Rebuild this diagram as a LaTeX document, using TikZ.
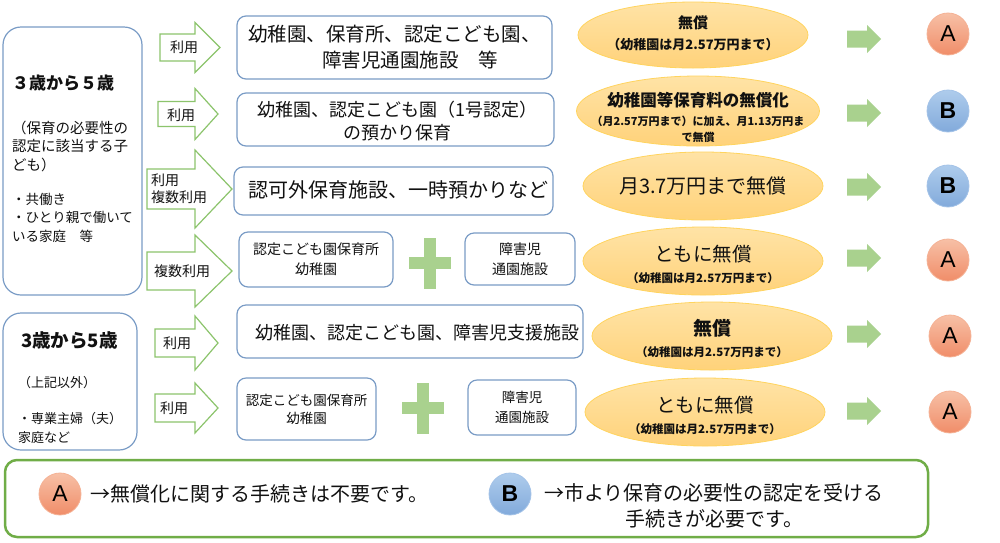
\documentclass[tikz,border=0pt]{standalone}
\usepackage{fontspec}
\setmainfont{Noto Sans CJK JP}
\newfontfamily\latinsans{Liberation Sans}
\usetikzlibrary{shapes.geometric}
\definecolor{boxblue}{HTML}{7A9CC6}
\definecolor{arrgreen}{HTML}{8CC46C}
\definecolor{plusgreen}{HTML}{A9D18E}
\definecolor{ellTop}{HTML}{FFE3A6}
\definecolor{ellBot}{HTML}{FFD27A}
\definecolor{ellborder}{HTML}{FFD45E}
\definecolor{aTop}{HTML}{F7C0A6}
\definecolor{aBot}{HTML}{F08D69}
\definecolor{aBorder}{HTML}{F5B295}
\definecolor{bTop}{HTML}{AECCEC}
\definecolor{bBot}{HTML}{82AADB}
\definecolor{bBorder}{HTML}{A4C3E8}
\definecolor{legendgreen}{HTML}{70AD47}
\definecolor{inkc}{HTML}{111111}
\newcommand\jf[2]{\fontsize{#1}{#2}\selectfont}
\newcommand\harr[6]{\draw[harrow] (#1,#4-#5) -- (#2,#4-#5) -- (#2,#4-#6) -- (#3,#4) -- (#2,#4+#6) -- (#2,#4+#5) -- (#1,#4+#5) -- cycle;}
\newcommand\sarr[1]{\fill[plusgreen] (847,#1-8.5) -- (867,#1-8.5) -- (867,#1-14) -- (881,#1) -- (867,#1+14) -- (867,#1+8.5) -- (847,#1+8.5) -- cycle;}
\newcommand\plusmark[2]{\fill[plusgreen] (#1-21,#2-6) rectangle (#1+21,#2+6); \fill[plusgreen] (#1-6,#2-25.5) rectangle (#1+6,#2+25.5);}
\begin{document}
\begin{tikzpicture}[x=1pt,y=-1pt,
  box/.style={draw=boxblue, line width=1.2pt, rounded corners=9pt, fill=white, inner sep=0pt},
  sidebox/.style={draw=boxblue, line width=1.2pt, rounded corners=18pt, fill=white, inner sep=0pt},
  ell/.style={ellipse, draw=ellborder, line width=0.8pt, top color=ellTop, bottom color=ellBot, inner sep=0pt},
  harrow/.style={draw=arrgreen, line width=1.2pt, fill=white, line join=miter},
  txt/.style={inner sep=0pt, text=inkc},
  circA/.style={circle, minimum size=42pt, inner sep=0pt, draw=aBorder, line width=0.8pt, top color=aTop, bottom color=aBot, text=black, font=\latinsans\fontsize{23}{26}\selectfont},
  circB/.style={circle, minimum size=42pt, inner sep=0pt, draw=bBorder, line width=0.8pt, top color=bTop, bottom color=bBot, text=black, font=\latinsans\bfseries\fontsize{23}{26}\selectfont}
]
\useasboundingbox (0,0) rectangle (1000,542);
\fill[white] (0,0) rectangle (1000,542);

% left boxes
\node[sidebox, minimum width=139pt, minimum height=268pt] (left1) at (72.5,161) {};
\node[txt, anchor=west, font=\bfseries\jf{17}{20}] (l1title) at (12,83) {３歳から５歳};
\node[txt, anchor=west, align=left, font=\jf{14.5}{18.5}] (l1p1) at (12,146) {（保育の必要性の\\認定に該当する子\\ども）};
\node[txt, anchor=west, align=left, font=\jf{13.5}{18.5}] (l1p2) at (12,217.5) {・共働き\\・ひとり親で働いて\\いる家庭　等};

\node[sidebox, minimum width=134pt, minimum height=137pt] (left2) at (70,381.5) {};
\node[txt, anchor=west, font=\bfseries\jf{18.5}{22}] (l2title) at (21,340) {3歳から5歳};
\node[txt, anchor=west, font=\jf{13}{18}] (l2p1) at (18,383) {（上記以外）};
\node[txt, anchor=west, align=left, font=\jf{13}{19}] (l2p2) at (18,427.5) {・専業主婦（夫）\\家庭など};

% hollow arrows
\harr{160}{195}{220}{47.5}{13.5}{25}
\harr{158}{195}{218}{114}{12.5}{25.5}
\harr{147}{195}{232}{189}{20}{39}
\harr{147}{195}{232}{271}{19}{36}
\harr{155}{195}{218}{343}{14}{27}
\harr{155}{195}{218}{408}{14}{25}
\node[txt, font=\jf{14}{17}] (u1) at (184,47.5) {利用};
\node[txt, font=\jf{14}{17}] (u2) at (181,115) {利用};
\node[txt, anchor=west, align=left, font=\jf{14}{17}] (u3) at (151,188.5) {利用\\複数利用};
\node[txt, font=\jf{14}{17}] (u4) at (182,271) {複数利用};
\node[txt, font=\jf{14}{17}] (u5) at (177,343) {利用};
\node[txt, font=\jf{14}{17}] (u6) at (174,408) {利用};

% middle boxes
\node[box, minimum width=315pt, minimum height=63pt] (m1) at (394.5,47.5) {};
\node[txt, align=center, font=\jf{19.5}{26}] (m1t) at (m1) {幼稚園、保育所、認定こども園、\\\hspace*{31pt}障害児通園施設　等};
\node[box, minimum width=317pt, minimum height=53pt] (m2) at (395.5,119.5) {};
\node[txt, align=center, font=\jf{18}{23}] (m2t) at (397,121.5) {幼稚園、認定こども園（1号認定）\\の預かり保育};
\node[box, minimum width=319pt, minimum height=48pt] (m3) at (393.5,191) {};
\node[txt, font=\jf{20}{24}] (m3t) at (398,190) {認可外保育施設、一時預かりなど};
\node[box, minimum width=154pt, minimum height=55pt] (m4a) at (316,259.5) {};
\node[txt, align=center, font=\jf{14}{20}] (m4at) at (m4a) {認定こども園保育所\\幼稚園};
\plusmark{430}{263}
\node[box, minimum width=110pt, minimum height=52pt] (m4b) at (520,259) {};
\node[txt, align=center, font=\jf{14}{20}] (m4bt) at (m4b) {障害児\\通園施設};
\node[box, minimum width=346pt, minimum height=53pt] (m5) at (410,331.5) {};
\node[txt, font=\jf{18}{22}] (m5t) at (417,333) {幼稚園、認定こども園、障害児支援施設};
\node[box, minimum width=139pt, minimum height=62pt] (m6a) at (306.5,409) {};
\node[txt, align=center, font=\jf{13.5}{18}] (m6at) at (m6a) {認定こども園保育所\\幼稚園};
\plusmark{423}{408}
\node[box, minimum width=108pt, minimum height=55pt] (m6b) at (522,407.5) {};
\node[txt, align=center, font=\jf{13.5}{20}] (m6bt) at (m6b) {障害児\\通園施設};

% ellipses
\node[ell, minimum width=230pt, minimum height=66pt] (e1) at (693,35) {};
\node[txt, align=center, font=\bfseries\jf{15}{21}] (e1t) at (693,33) {無償\\\jf{13}{21}（幼稚園は月2.57万円まで）};
\node[ell, minimum width=243pt, minimum height=70pt] (e2) at (698,111) {};
\node[txt, align=center, font=\bfseries\jf{11}{16}] (e2t) at (698,117) {\jf{16.5}{16}幼稚園等保育料の無償化\\[3pt]（月2.57万円まで）に加え、月1.13万円ま\\で無償};
\node[ell, minimum width=240pt, minimum height=68pt] (e3) at (703,186) {};
\node[txt, font=\jf{20}{24}] (e3t) at (e3) {月3.7万円まで無償};
\node[ell, minimum width=240pt, minimum height=68pt] (e4) at (703,261) {};
\node[txt, align=center, font=\jf{19.5}{21}] (e4t) at (703,264) {ともに無償\\\bfseries\jf{11.5}{21}（幼稚園は月2.57万円まで）};
\node[ell, minimum width=240pt, minimum height=68pt] (e5) at (712,336) {};
\node[txt, align=center, font=\bfseries\jf{19}{21}] (e5t) at (712,338) {無償\\\jf{11.5}{21}（幼稚園は月2.57万円まで）};
\node[ell, minimum width=240pt, minimum height=68pt] (e6) at (705,412) {};
\node[txt, align=center, font=\jf{19.5}{21}] (e6t) at (705,415) {ともに無償\\\bfseries\jf{11.5}{21}（幼稚園は月2.57万円まで）};

% small arrows
\sarr{39}
\sarr{113}
\sarr{187}
\sarr{258}
\sarr{334}
\sarr{411}

% result circles
\node[circA] (r1) at (948,34) {A};
\node[circB] (r2) at (948,111) {B};
\node[circB] (r3) at (948,186) {B};
\node[circA] (r4) at (948,260) {A};
\node[circA] (r5) at (950,336) {A};
\node[circA] (r6) at (950,412) {A};

% legend
\node[draw=legendgreen, line width=2.5pt, rounded corners=12pt, minimum width=923pt, minimum height=77pt, inner sep=0pt] (legend) at (466.5,498.5) {};
\node[circA] (legA) at (60,494) {A};
\node[txt, anchor=west, font=\jf{20}{26}] (legAt) at (90,494) {→無償化に関する手続きは不要です。};
\node[circB] (legB) at (510,494) {B};
\node[txt, align=center, font=\jf{20}{26}] (legBt) at (714,506) {→市より保育の必要性の認定を受ける\\手続きが必要です。};
\end{tikzpicture}
\end{document}
